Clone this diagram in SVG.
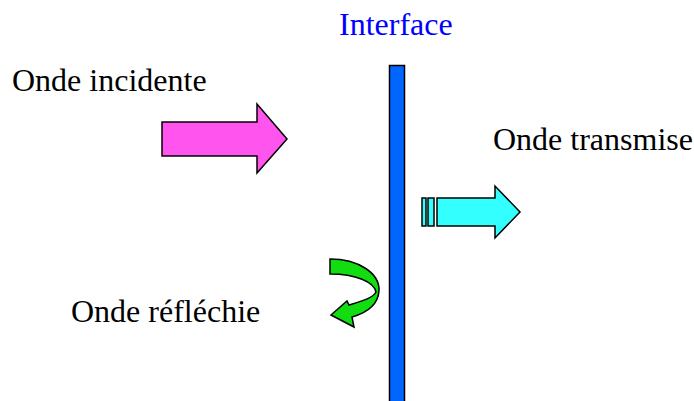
<svg xmlns="http://www.w3.org/2000/svg" width="694" height="401" viewBox="0 0 694 401">
<style>
text{font-family:"Liberation Serif","Times New Roman",serif;font-size:32px;fill:#000}
.shape{stroke:#000;stroke-width:1.5;stroke-linejoin:miter}
</style>
<rect width="694" height="401" fill="#fff"/>
<g id="interface">
<rect class="shape" x="389.5" y="65.5" width="15" height="340" fill="#0066ff" stroke="#1a1a40" stroke-width="2"/>
<text x="339" y="35" fill="#0000ff" style="fill:#0000ff">Interface</text>
</g>
<g id="onde-incidente">
<path class="shape" d="M162,122 L257,122 L257,104 L287,139 L257,173 L257,156 L162,156 Z" fill="#ff55ee"/>
<text x="12" y="91">Onde incidente</text>
</g>
<g id="onde-transmise">
<rect class="shape" x="422" y="198" width="4" height="28" fill="#33ffff"/>
<rect class="shape" x="428" y="198" width="6" height="28" fill="#33ffff"/>
<path class="shape" d="M437,198 L495,198 L495,186 L520,212 L495,238 L495,226 L437,226 Z" fill="#33ffff"/>
<text x="493" y="150">Onde transmise</text>
</g>
<g id="onde-reflechie">
<path class="shape" d="M330,259 C358,259 380,273 379,291 C378,305 366,313 352,317 L354,327 L331,315 L347,301 L349,305 C362,301 373,298 376,292 C374,282 356,274 330,274 Z" fill="#11dd11"/>
<text x="71" y="322">Onde réfléchie</text>
</g>
</svg>
